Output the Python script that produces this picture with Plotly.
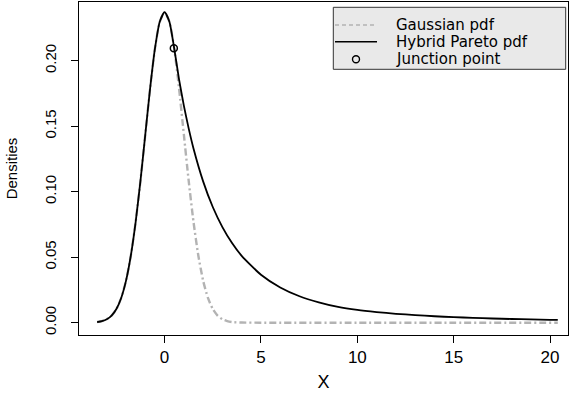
import plotly.graph_objects as go

# Hybrid Pareto pdf
hp_x = [-3.5, -3.25, -3.0, -2.75, -2.5, -2.25, -2.0, -1.75, -1.5, -1.25, -1.0, -0.75, -0.5, -0.25,
        0.0, 0.25, 0.48, 0.75, 1.0, 1.25, 1.5, 2.0, 2.5, 3.0, 3.5, 4.0, 5.0, 6.0, 7.0, 8.0, 9.0,
        10.0, 11.0, 12.0, 13.0, 14.0, 15.0, 16.0, 17.0, 18.0, 19.0, 20.0, 20.4]
hp_y = [0.0005, 0.0012, 0.0026, 0.0054, 0.0104, 0.0189, 0.0321, 0.0513, 0.0770, 0.1085, 0.1437,
        0.1789, 0.2092, 0.2297, 0.2370, 0.2297, 0.2112, 0.1858, 0.1657, 0.1483, 0.1330, 0.1079,
        0.0883, 0.0730, 0.0608, 0.0510, 0.0366, 0.0269, 0.0202, 0.0155, 0.0120, 0.0097, 0.0081,
        0.0068, 0.0058, 0.0049, 0.0042, 0.0037, 0.0032, 0.0028, 0.0025, 0.0022, 0.0021]

# Gaussian pdf
g_x = [-3.5, -3.25, -3.0, -2.75, -2.5, -2.25, -2.0, -1.75, -1.5, -1.25, -1.0, -0.75, -0.5, -0.25,
       0.0, 0.25, 0.5, 0.75, 1.0, 1.25, 1.5, 1.75, 2.0, 2.25, 2.5, 2.75, 3.0, 3.25, 3.5, 4.0, 5.0,
       10.0, 15.0, 20.4]
g_y = [0.0005, 0.0012, 0.0026, 0.0054, 0.0104, 0.0189, 0.0321, 0.0513, 0.0770, 0.1085, 0.1437,
       0.1789, 0.2092, 0.2297, 0.2370, 0.2297, 0.2092, 0.1789, 0.1437, 0.1085, 0.0770, 0.0513,
       0.0321, 0.0189, 0.0104, 0.0054, 0.0026, 0.0012, 0.0005, 0.0001, 0.0, 0.0, 0.0, 0.0]

junction_x = [0.48]
junction_y = [0.2095]

x_ticks = [0, 5, 10, 15, 20]
y_ticks = [0.00, 0.05, 0.10, 0.15, 0.20]
y_tick_labels = ["0.00", "0.05", "0.10", "0.15", "0.20"]
legend_labels = ["Gaussian pdf", "Hybrid Pareto pdf", "Junction point"]

FONT = "Liberation Sans, Arial, Helvetica, sans-serif"
LFONT = "DejaVu Sans, Liberation Sans, sans-serif"
GREY = "#b3b3b3"

fig = go.Figure()
fig.add_trace(go.Scatter(x=g_x, y=g_y, mode="lines", name=legend_labels[0], showlegend=False,
                         line=dict(color=GREY, width=2.4, dash="7px,3px,2px,3px", shape="spline", smoothing=0.6)))
fig.add_trace(go.Scatter(x=hp_x, y=hp_y, mode="lines", name=legend_labels[1], showlegend=False,
                         line=dict(color="black", width=1.8, shape="spline", smoothing=0.6)))
fig.add_trace(go.Scatter(x=junction_x, y=junction_y, mode="markers", name=legend_labels[2], showlegend=False,
                         marker=dict(symbol="circle-open", size=7, color="black", line=dict(width=1.5))))

# Hand-drawn legend box (paper coordinates; plot area is 489 x 333 px)
W, H = 489.0, 333.0
def px(x):
    return (x - 79) / W
def py(y):
    return (335 - y) / H

shapes = [
    dict(type="rect", xref="paper", yref="paper", x0=px(333.3), x1=px(565.7), y0=py(69.3), y1=py(7.3),
         fillcolor="#e9e9e9", line=dict(color="#333333", width=1), layer="above"),
    dict(type="line", xref="paper", yref="paper", x0=px(335), x1=px(377), y0=py(25), y1=py(25),
         line=dict(color=GREY, width=1.6, dash="4px,3px"), layer="above"),
    dict(type="line", xref="paper", yref="paper", x0=px(335), x1=px(377), y0=py(41.7), y1=py(41.7),
         line=dict(color="black", width=1.6), layer="above"),
    dict(type="circle", xref="paper", yref="paper", x0=px(352.5), x1=px(359.5), y0=py(62.8), y1=py(55.8),
         line=dict(color="black", width=1.4), layer="above"),
]
annotations = []
for label, yy in zip(legend_labels, [25, 41.7, 59.3]):
    annotations.append(dict(xref="paper", yref="paper", x=px(395), y=py(yy), text=label,
                            showarrow=False, xanchor="left", yanchor="middle", borderpad=0,
                            font=dict(family=LFONT, size=15, color="black")))

fig.update_layout(
    width=573, height=394,
    margin=dict(l=79, r=5, t=2, b=59),
    plot_bgcolor="white", paper_bgcolor="white",
    font=dict(family=FONT, color="black"),
    showlegend=False,
    shapes=shapes,
    annotations=annotations,
    xaxis=dict(range=[-4.44, 20.93], tickvals=x_ticks, ticks="outside", ticklen=7,
               tickcolor="black", showline=True, mirror=True, linecolor="black", linewidth=1,
               showgrid=False, zeroline=False, tickfont=dict(size=17),
               title=dict(text="X", font=dict(size=18), standoff=8)),
    yaxis=dict(range=[-0.0094, 0.2448], tickvals=y_ticks, ticktext=y_tick_labels, tickangle=-90,
               ticks="outside", ticklen=7, tickcolor="black", showline=True, mirror=True,
               linecolor="black", linewidth=1, showgrid=False, zeroline=False,
               tickfont=dict(size=15), ticklabelstandoff=9,
               title=dict(text="Densities", font=dict(size=15), standoff=20)),
)

fig.write_html("out.html")
